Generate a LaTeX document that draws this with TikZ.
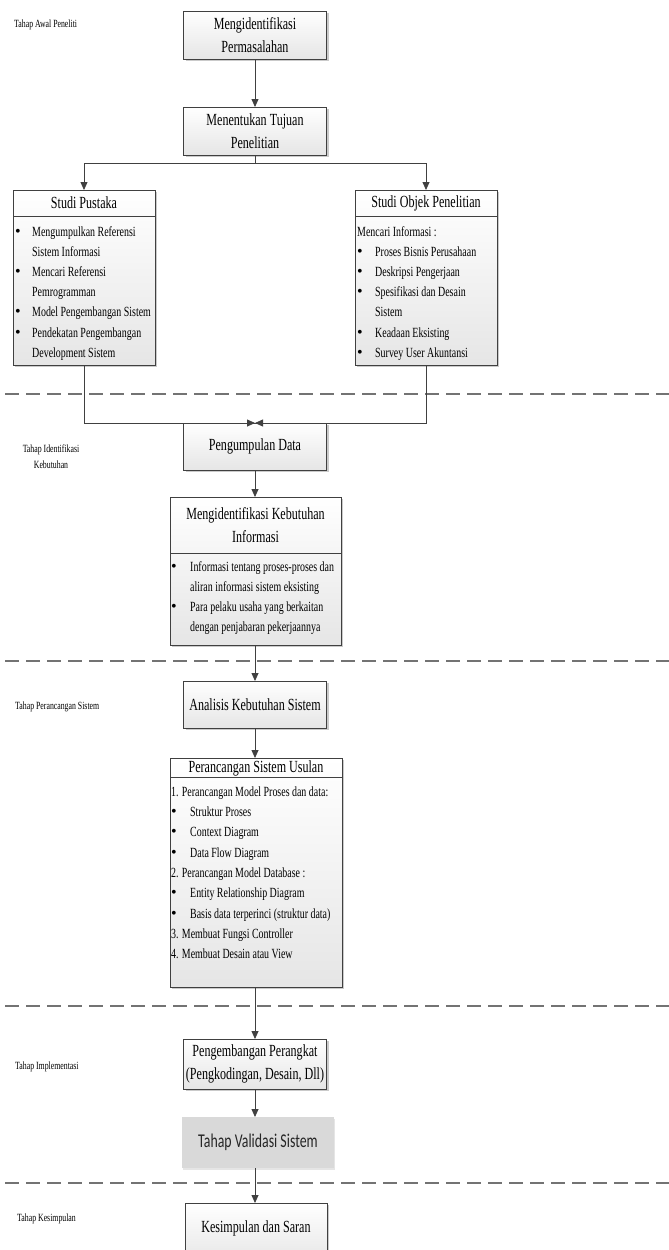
\documentclass[tikz,border=0pt]{standalone}
\usepackage{fontspec}
\setmainfont{Liberation Serif}[FakeStretch=0.71]
\newfontfamily\calfont{Carlito}[FakeStretch=0.71]
\newfontfamily\bulfont{Liberation Serif}
\usetikzlibrary{arrows.meta,shadows}
\newcommand\bul[1]{\makebox[#1][l]{{\bulfont\fontsize{16}{20}\selectfont\textbullet}}}
\tikzset{
  boxstyle/.style={rectangle, draw=black!75, line width=0.8pt, top color=white, bottom color=black!10,
    drop shadow={shadow xshift=2pt, shadow yshift=-2pt, fill=black!35, opacity=0.6},
    inner sep=0pt, outer sep=0pt},
  sepline/.style={draw=black!75, line width=0.8pt},
  titletext/.style={font=\fontsize{17}{23}\selectfont, align=center, inner sep=0pt},
  bodytext/.style={font=\fontsize{14}{20}\selectfont, anchor=base west, inner sep=0pt},
  phasetext/.style={font=\fontsize{11}{16}\selectfont, inner sep=0pt},
  arr/.style={draw=black!75, line width=0.8pt, -{Triangle[length=8pt,width=7pt]}},
  phase/.style={draw=black!55, line width=1.3pt, dash pattern=on 14pt off 7pt},
}
\begin{document}
\begin{tikzpicture}[x=1pt,y=-1pt]
\useasboundingbox (0,0) rectangle (669,1250);

% phase separators
\draw[phase] (5,394) -- (669,394);
\draw[phase] (5,661) -- (669,661);
\draw[phase] (5,1006) -- (669,1006);
\draw[phase] (5,1183) -- (669,1183);

% phase labels
\node[phasetext, anchor=west] (l1) at (14,25) {Tahap Awal Peneliti};
\node[phasetext, align=center] (l2) at (51,457) {Tahap Identifikasi\\Kebutuhan};
\node[phasetext, anchor=west] (l3) at (15,707) {Tahap Perancangan Sistem};
\node[phasetext, anchor=west] (l4) at (15,1067) {Tahap Implementasi};
\node[phasetext, anchor=west] (l5) at (17,1219) {Tahap Kesimpulan};

% boxes
\node[boxstyle, minimum width=143pt, minimum height=48pt] (b1) at (255,35) {};
\node[titletext] (b1t) at (b1) {Mengidentifikasi\\Permasalahan};
\node[boxstyle, minimum width=143pt, minimum height=48pt] (b2) at (255,131) {};
\node[titletext] (b2t) at (b2) {Menentukan Tujuan\\Penelitian};

\node[boxstyle, minimum width=142pt, minimum height=175pt] (sp) at (84,277.5) {};
\draw[sepline] (sp.west |- 0,216) -- (sp.east |- 0,216);
\node[titletext] (spt) at (84,203) {Studi Pustaka};
\node[bodytext] (sp1) at (15,236) {\bul{17pt}Mengumpulkan Referensi};
\node[bodytext] (sp2) at (32,256.2) {Sistem Informasi};
\node[bodytext] (sp3) at (15,276.4) {\bul{17pt}Mencari Referensi};
\node[bodytext] (sp4) at (32,296.6) {Pemrogramman};
\node[bodytext] (sp5) at (15,316.8) {\bul{17pt}Model Pengembangan Sistem};
\node[bodytext] (sp6) at (15,337) {\bul{17pt}Pendekatan Pengembangan};
\node[bodytext] (sp7) at (32,357.2) {Development Sistem};

\node[boxstyle, minimum width=142pt, minimum height=175pt] (so) at (426,277.5) {};
\draw[sepline] (so.west |- 0,216) -- (so.east |- 0,216);
\node[titletext] (sot) at (426,203) {Studi Objek Penelitian};
\node[bodytext] (so1) at (357,236) {Mencari Informasi :};
\node[bodytext] (so2) at (357,256.2) {\bul{18pt}Proses Bisnis Perusahaan};
\node[bodytext] (so3) at (357,276.4) {\bul{18pt}Deskripsi Pengerjaan};
\node[bodytext] (so4) at (357,296.6) {\bul{18pt}Spesifikasi dan Desain};
\node[bodytext] (so5) at (375,316.8) {Sistem};
\node[bodytext] (so6) at (357,337) {\bul{18pt}Keadaan Eksisting};
\node[bodytext] (so7) at (357,357.2) {\bul{18pt}Survey User Akuntansi};

\node[boxstyle, minimum width=143pt, minimum height=47pt] (pd) at (255,446.5) {};
\node[titletext] (pdt) at (pd) {Pengumpulan Data};

\node[boxstyle, minimum width=171pt, minimum height=148pt] (kb) at (255.5,571) {};
\draw[sepline] (kb.west |- 0,553) -- (kb.east |- 0,553);
\node[titletext] (kbt) at (255.5,525) {Mengidentifikasi Kebutuhan\\Informasi};
\node[bodytext] (kb1) at (171,571) {\bul{19pt}Informasi tentang proses-proses dan};
\node[bodytext] (kb2) at (190,591.3) {aliran informasi sistem eksisting};
\node[bodytext] (kb3) at (171,611.6) {\bul{19pt}Para pelaku usaha yang berkaitan};
\node[bodytext] (kb4) at (190,631.9) {dengan penjabaran pekerjaannya};

\node[boxstyle, minimum width=143pt, minimum height=47pt] (an) at (255,704.5) {};
\node[titletext] (ant) at (an) {Analisis Kebutuhan Sistem};

\node[boxstyle, minimum width=172pt, minimum height=229pt] (pr) at (256,872.5) {};
\draw[sepline] (pr.west |- 0,777) -- (pr.east |- 0,777);
\node[titletext] (prt) at (256,768) {Perancangan Sistem Usulan};
\node[bodytext] (pr1) at (171,796) {1. Perancangan Model Proses dan data:};
\node[bodytext] (pr2) at (171,816.3) {\bul{19pt}Struktur Proses};
\node[bodytext] (pr3) at (171,836.7) {\bul{19pt}Context Diagram};
\node[bodytext] (pr4) at (171,857) {\bul{19pt}Data Flow Diagram};
\node[bodytext] (pr5) at (171,877.4) {2. Perancangan Model Database :};
\node[bodytext] (pr6) at (171,897.7) {\bul{19pt}Entity Relationship Diagram};
\node[bodytext] (pr7) at (171,918) {\bul{19pt}Basis data terperinci (struktur data)};
\node[bodytext] (pr8) at (171,938.4) {3. Membuat Fungsi Controller};
\node[bodytext] (pr9) at (171,958.7) {4. Membuat Desain atau View};

\node[boxstyle, minimum width=143pt, minimum height=50pt] (pg) at (255,1064) {};
\node[titletext] (pgt) at (pg) {Pengembangan Perangkat\\(Pengkodingan, Desain, Dll)};

\node[rectangle, fill=black!15, minimum width=152pt, minimum height=51pt, inner sep=0pt, outer sep=0pt,
  drop shadow={shadow xshift=1pt, shadow yshift=-1.5pt, fill=black!20, opacity=0.5}] (va) at (258,1142.5) {};
\node[font=\calfont\fontsize{19.5}{23}\selectfont, text=black!85, inner sep=0pt] (vat) at (va) {Tahap Validasi Sistem};

\node[boxstyle, minimum width=142pt, minimum height=62pt] (ks) at (256,1234) {};
\node[titletext] (kst) at (256,1228) {Kesimpulan dan Saran};

% connectors
\draw[arr] (b1) -- (b2);
\draw[arr] (b2.south) -- ++(0,8) -| (sp.north);
\draw[arr] (b2.south) -- ++(0,8) -| (so.north);
\draw[arr] (sp.south) |- (pd.north);
\draw[arr] (so.south) |- (pd.north);
\draw[arr] (pd) -- (pd |- kb.north);
\draw[arr] (kb.south -| pd) -- (pd |- an.north);
\draw[arr] (an) -- (an |- pr.north);
\draw[arr] (pr.south -| an) -- (an |- pg.north);
\draw[arr] (pg) -- (pg |- va.north);
\draw[arr] (va.south -| pg) -- (pg |- ks.north);
\end{tikzpicture}
\end{document}
